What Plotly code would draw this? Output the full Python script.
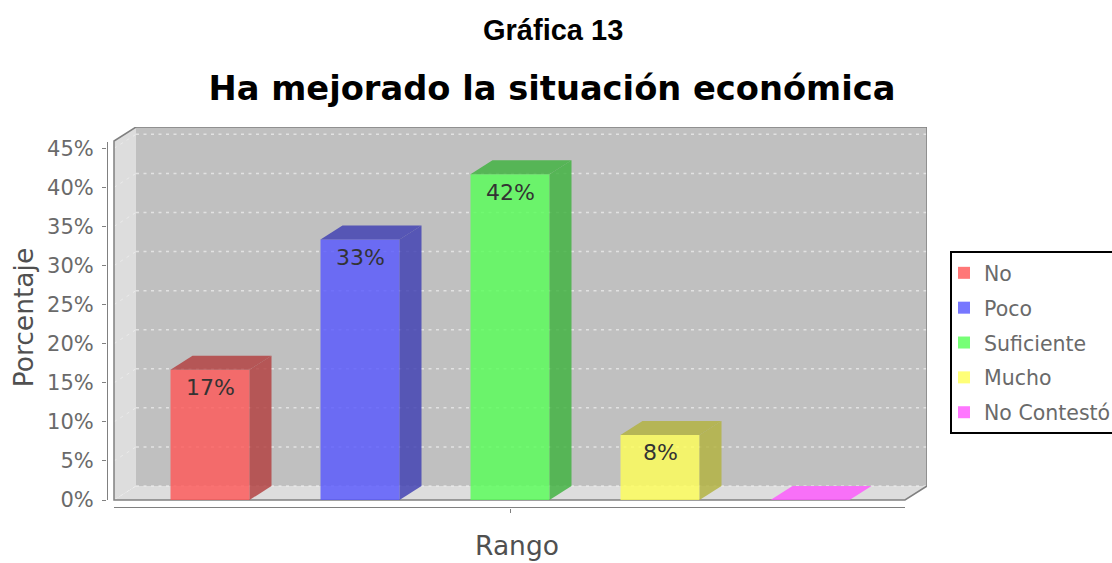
import plotly.graph_objects as go

# --- data ---
categories = ["No", "Poco", "Suficiente", "Mucho", "No Contestó"]
values = [16.67, 33.33, 41.67, 8.33, 0]
labels = ["17%", "33%", "42%", "8%", ""]
base_colors = [(255, 85, 85), (85, 85, 255), (85, 255, 85), (255, 255, 85), (255, 85, 255)]
y_ticks = [0, 5, 10, 15, 20, 25, 30, 35, 40, 45]
y_tick_labels = ["0%", "5%", "10%", "15%", "20%", "25%", "30%", "35%", "40%", "45%"]
chart_heading = "Gráfica 13"
chart_title = "Ha mejorado la situación económica"
x_title = "Rango"
y_title = "Porcentaje"

# --- geometry (pixels) ---
W, H = 1112, 563
PX_X0, PX_X1, PX_Y0, PX_Y1 = 107, 927, 127, 508   # plot rectangle
CENTER0, STEP = 210.0, 150.0                       # px of first bar, px per category
ZERO_Y, PX_PER_PCT = 500.0, 7.815
FRONT_L, FRONT_R = 114, 905
BAR_W = 79.0 / STEP
DX = 22.0 / STEP           # depth in x data units
DY = 14.0 / PX_PER_PCT     # depth in y data units
ux = lambda p: (p - CENTER0) / STEP
uy = lambda p: (ZERO_Y - p) / PX_PER_PCT
fx = lambda p: (p - PX_X0) / (PX_X1 - PX_X0)   # paper fractions are relative to the plot rectangle
fy = lambda p: (PX_Y1 - p) / (PX_Y1 - PX_Y0)

XL, XR = ux(FRONT_L), ux(FRONT_R)
YTOP = uy(141)
TEXT = "#6a6a6a"
TITLE_GREY = "#505050"
LINE = "#808080"
FONT = "DejaVu Sans"

fig = go.Figure()

# front faces and legend
for i, (c, v, col) in enumerate(zip(categories, values, base_colors)):
    fig.add_trace(go.Bar(x=[i], y=[v], width=BAR_W, name=c, legendgroup=c,
                         marker=dict(color=f"rgba({col[0]},{col[1]},{col[2]},0.8)", line_width=0),
                         hoverinfo="skip"))

# top and side faces from the same values
for i, (v, col) in enumerate(zip(values, base_colors)):
    dark = tuple(int(k * 0.7) for k in col)
    l, r = i - BAR_W / 2, i + BAR_W / 2
    topcolor = f"rgba({col[0]},{col[1]},{col[2]},0.8)" if v == 0 else f"rgba({dark[0]},{dark[1]},{dark[2]},0.8)"
    faces = [([l, r, r + DX, l + DX, l], [v, v, v + DY, v + DY, v])]
    if v > 0:
        faces.append(([r, r + DX, r + DX, r, r], [0, DY, v + DY, v, 0]))
    for px_, py_ in faces:
        fig.add_trace(go.Scatter(x=px_, y=py_, mode="lines", fill="toself", fillcolor=topcolor,
                                 line=dict(width=0), showlegend=False, hoverinfo="skip"))

# the axis lines, offset from the 3-D box as in the chart
fig.add_trace(go.Scatter(x=[ux(PX_X0)] * 2, y=[0, uy(142)], mode="lines", cliponaxis=False,
                         line=dict(color=LINE, width=2), showlegend=False, hoverinfo="skip"))
fig.add_trace(go.Scatter(x=[XL, XR], y=[uy(PX_Y1)] * 2, mode="lines", cliponaxis=False,
                         line=dict(color=LINE, width=2), showlegend=False, hoverinfo="skip"))

# walls, floor, grid
shapes = []
def poly(xs, ys, fill):
    path = "M" + " L".join(f"{a},{b}" for a, b in zip(xs, ys)) + " Z"
    shapes.append(dict(type="path", path=path, xref="x", yref="y", layer="below", fillcolor=fill,
                       line=dict(color="rgba(0,0,0,0)", width=0)))

poly([XL + DX, XR + DX, XR + DX, XL + DX], [DY, DY, YTOP + DY, YTOP + DY], "#c0c0c0")
poly([XL, XL + DX, XL + DX, XL], [0, DY, YTOP + DY, YTOP], "#dddddd")
poly([XL, XR, XR + DX, XL + DX], [0, 0, DY, DY], "#dddddd")
for t in y_ticks:
    shapes.append(dict(type="line", xref="x", yref="y", layer="below", x0=XL + DX, x1=XR + DX,
                       y0=t + DY, y1=t + DY, line=dict(color="rgba(238,238,238,0.75)", width=1.5, dash="3px,4.5px")))
    shapes.append(dict(type="line", xref="x", yref="y", layer="below", x0=XL, x1=XL + DX,
                       y0=t, y1=t + DY, line=dict(color="rgba(240,240,240,0.7)", width=1, dash="3px,4.5px")))
outline = "M" + " L".join(f"{a},{b}" for a, b in [(XL, 0), (XL, YTOP), (XL + DX, YTOP + DY), (XR + DX, YTOP + DY),
                                                  (XR + DX, DY), (XR, 0)]) + " Z"
shapes.append(dict(type="path", path=outline, xref="x", yref="y", layer="below",
                   line=dict(color=LINE, width=1.5), fillcolor="rgba(0,0,0,0)"))
# legend frame, running off the right edge of the picture
shapes.append(dict(type="path", xref="paper", yref="paper", layer="above",
                   path=f"M{fx(1114)},{fy(252)} L{fx(951)},{fy(252)} L{fx(951)},{fy(433)} L{fx(1114)},{fy(433)}",
                   line=dict(color="#000000", width=2), fillcolor="rgba(0,0,0,0)"))

annotations = [
    dict(x=i, y=v, yshift=-18, text=t, showarrow=False, xanchor="center", yanchor="middle",
         font=dict(family=FONT, size=22, color="#333333"))
    for i, (v, t) in enumerate(zip(values, labels)) if t
]
annotations.append(dict(x=fx(552.5), y=fy(30), xref="paper", yref="paper", text=chart_heading, showarrow=False,
                        xanchor="center", yanchor="middle",
                        font=dict(family="Liberation Sans", size=29, color="#000000", weight="bold")))

fig.update_layout(
    width=W, height=H, autosize=False, barmode="overlay",
    paper_bgcolor="white", plot_bgcolor="rgba(0,0,0,0)",
    margin=dict(l=PX_X0, r=W - PX_X1, t=PX_Y0, b=H - PX_Y1, autoexpand=False, pad=0),
    shapes=shapes, annotations=annotations,
    title=dict(text=chart_title, x=552 / W, xanchor="center", y=1 - 88 / H, yanchor="middle",
               font=dict(family=FONT, size=33.7, color="#000000", weight="bold")),
    xaxis=dict(range=[ux(PX_X0), ux(PX_X1)], showgrid=False, zeroline=False, showline=False,
               tickvals=[2], ticktext=[""], ticks="outside", ticklen=4, tickcolor=LINE,
               title=dict(text=x_title, standoff=22, font=dict(family=FONT, size=26.5, color=TITLE_GREY))),
    yaxis=dict(range=[uy(PX_Y1), uy(PX_Y0)], showgrid=False, zeroline=False, showline=False,
               tickvals=y_ticks, ticktext=y_tick_labels, ticks="outside", ticklen=4, tickcolor=LINE,
               ticklabelstandoff=4, tickfont=dict(family=FONT, size=21, color=TEXT),
               title=dict(text=y_title, standoff=5, font=dict(family=FONT, size=26.5, color=TITLE_GREY))),
    legend=dict(x=fx(951), xanchor="left", y=fy(253), yanchor="top", bgcolor="rgba(0,0,0,0)",
                borderwidth=0, tracegroupgap=5.2, indentation=-7, entrywidth=128, entrywidthmode="pixels",
                traceorder="grouped", font=dict(family=FONT, size=20.5, color=TEXT)),
)
fig.write_html("out.html", config=dict(displayModeBar=False),
               post_script="document.body.style.margin='0';document.documentElement.style.overflow='hidden';")
